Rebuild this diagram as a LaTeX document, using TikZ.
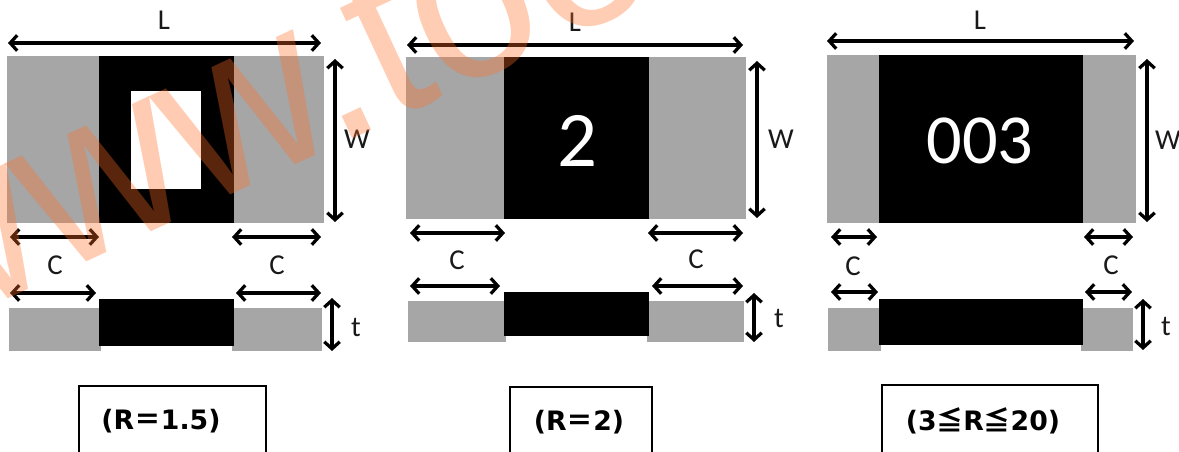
\documentclass[tikz,border=0pt]{standalone}
\usepackage{fontspec}
\setmainfont{Carlito}
\newfontfamily\boxfont{DejaVu Sans}
\newfontfamily\cjk{Noto Sans CJK JP}
\newfontfamily\markfont{Liberation Sans}
\usetikzlibrary{arrows.meta, positioning}
\definecolor{padgray}{HTML}{A6A6A6}
\definecolor{markorange}{RGB}{255,110,40}
\tikzset{
    dimarrow/.style={<->, >={Straight Barb[length=5pt,width=11pt]}, line width=2.3pt},
    dimlabel/.style={font=\fontsize{20.5}{20.5}\selectfont, text=black!90},
    boxlabel/.style={draw, line width=1.1pt, minimum height=1.75cm},
    boxtext/.style={font=\fontsize{19}{19}\selectfont\boxfont\bfseries},
    marking/.style={text=white}
}

\begin{document}
\begin{tikzpicture}[x=0.025cm, y=-0.025cm]
    \useasboundingbox (0,0) rectangle (1179,452);
    \clip (0,0) rectangle (1179,452);

    % Gray terminals
    \foreach \xa/\ya/\xb/\yb in {7/56/324/223, 9/308/101/351, 232/308/322/351,
        406/57/746/219, 408/301/506/342, 647/301/744/342,
        827/55/1136/223, 828/308/881/351, 1081/308/1133/351} {
        \fill[padgray] (\xa,\ya) rectangle (\xb,\yb);
    }

    % Black bodies
    \foreach \xa/\ya/\xb/\yb in {99/56/234/223, 99/299/234/346,
        504/57/649/219, 504/292/649/336,
        879/55/1083/223, 879/299/1083/345} {
        \fill[black] (\xa,\ya) rectangle (\xb,\yb);
    }

    % Blank marking
    \fill[white] (131,91) rectangle (201,189);

    % Printed values
    \node[marking, font=\fontsize{56}{56}\selectfont] (mark2) at (577,141) {2};
    \node[marking, font=\fontsize{50}{50}\selectfont] (mark3) at (980,141) {003};

    % Dimension arrows
    \foreach \name/\xa/\ya/\xb/\yb in {
        La/8/43/321/43, Wa/335/59/335/222, Cal/10/237/99/237, Car/232/237/321/237,
        Dal/10/293/96/293, Dar/236/293/321/293, ta/332/298/332/351,
        Lb/407/45/743/45, Wb/757/61/757/218, Cbl/410/233/505/233, Cbr/648/233/743/233,
        Dbl/410/286/500/286, Dbr/652/286/743/286, tb/754/293/754/342,
        Lc/827/41/1134/41, Wc/1147/59/1147/222, Ccl/831/237/877/237, Ccr/1084/237/1133/237,
        Dcl/831/292/878/292, Dcr/1085/292/1132/292, tc/1143/299/1143/350} {
        \coordinate (\name s) at (\xa,\ya);
        \coordinate (\name e) at (\xb,\yb);
        \draw[dimarrow] (\name s) -- (\name e);
    }

    % Dimension labels
    \foreach \name/\x/\y/\txt in {
        labLa/164/20/L, labWa/357/139/W, labCal/55/265/C, labCar/277/265/C, labta/356/327/t,
        labLb/575/22/L, labWb/781/139/W, labCbl/457/260/C, labCbr/696/259/C, labtb/779/318/t,
        labLc/980/20/L, labWc/1168/140/W, labCcl/853/266/C, labCcr/1111/265/C, labtc/1166/326/t} {
        \node[dimlabel] (\name) at (\x,\y) {\txt};
    }

    % Ratio boxes
    \node[boxlabel, minimum width=4.675cm] (boxa) at (172.5,421) {};
    \node[boxlabel, minimum width=3.55cm] (boxb) at (581,422) {};
    \node[boxlabel, minimum width=5.4cm] (boxc) at (990,420) {};
    \node[boxtext] (texta) at (161,421) {(R{\cjk ＝}1.5)};
    \node[boxtext] (textb) at (579,422) {(R{\cjk ＝}2)};
    \node[boxtext] (textc) at (983,421) {(3{\cjk ≦}R{\cjk ≦}20)};

    % Watermark
    \node[rotate=25, anchor=base west, inner sep=0pt, text=markorange, text opacity=0.35,
        font=\fontsize{166}{166}\selectfont\markfont] (watermark) at (-86,343) {\scalebox{0.94}[1]{www.too}};
\end{tikzpicture}
\end{document}
